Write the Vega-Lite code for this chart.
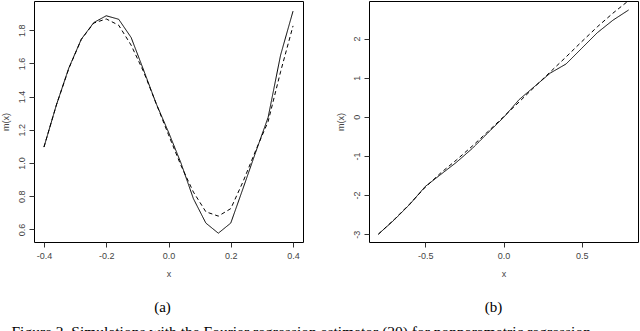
{
  "$schema": "https://vega.github.io/schema/vega-lite/v6.json",
  "padding": {"left": 0, "top": 0, "right": 0, "bottom": 0},
  "background": "white",
  "datasets": {
    "a": [
      {"x": -0.40, "m": 1.096, "series": "estimate"},
      {"x": -0.36, "m": 1.350, "series": "estimate"},
      {"x": -0.32, "m": 1.573, "series": "estimate"},
      {"x": -0.28, "m": 1.746, "series": "estimate"},
      {"x": -0.24, "m": 1.846, "series": "estimate"},
      {"x": -0.20, "m": 1.887, "series": "estimate"},
      {"x": -0.16, "m": 1.866, "series": "estimate"},
      {"x": -0.12, "m": 1.756, "series": "estimate"},
      {"x": -0.08, "m": 1.560, "series": "estimate"},
      {"x": -0.04, "m": 1.360, "series": "estimate"},
      {"x": 0.00, "m": 1.186, "series": "estimate"},
      {"x": 0.04, "m": 1.000, "series": "estimate"},
      {"x": 0.08, "m": 0.785, "series": "estimate"},
      {"x": 0.12, "m": 0.638, "series": "estimate"},
      {"x": 0.16, "m": 0.577, "series": "estimate"},
      {"x": 0.20, "m": 0.638, "series": "estimate"},
      {"x": 0.24, "m": 0.850, "series": "estimate"},
      {"x": 0.28, "m": 1.065, "series": "estimate"},
      {"x": 0.32, "m": 1.275, "series": "estimate"},
      {"x": 0.36, "m": 1.650, "series": "estimate"},
      {"x": 0.40, "m": 1.915, "series": "estimate"},
      {"x": -0.40, "m": 1.096, "series": "true"},
      {"x": -0.36, "m": 1.350, "series": "true"},
      {"x": -0.32, "m": 1.570, "series": "true"},
      {"x": -0.28, "m": 1.745, "series": "true"},
      {"x": -0.24, "m": 1.843, "series": "true"},
      {"x": -0.20, "m": 1.868, "series": "true"},
      {"x": -0.16, "m": 1.830, "series": "true"},
      {"x": -0.12, "m": 1.710, "series": "true"},
      {"x": -0.08, "m": 1.550, "series": "true"},
      {"x": -0.04, "m": 1.360, "series": "true"},
      {"x": 0.00, "m": 1.170, "series": "true"},
      {"x": 0.04, "m": 0.985, "series": "true"},
      {"x": 0.08, "m": 0.825, "series": "true"},
      {"x": 0.12, "m": 0.706, "series": "true"},
      {"x": 0.16, "m": 0.680, "series": "true"},
      {"x": 0.20, "m": 0.725, "series": "true"},
      {"x": 0.24, "m": 0.890, "series": "true"},
      {"x": 0.28, "m": 1.075, "series": "true"},
      {"x": 0.32, "m": 1.250, "series": "true"},
      {"x": 0.36, "m": 1.550, "series": "true"},
      {"x": 0.40, "m": 1.826, "series": "true"}
    ],
    "b": [
      {"x": -0.8, "m": -3.00, "series": "estimate"},
      {"x": -0.7, "m": -2.64, "series": "estimate"},
      {"x": -0.6, "m": -2.24, "series": "estimate"},
      {"x": -0.5, "m": -1.78, "series": "estimate"},
      {"x": -0.4, "m": -1.47, "series": "estimate"},
      {"x": -0.3, "m": -1.16, "series": "estimate"},
      {"x": -0.2, "m": -0.81, "series": "estimate"},
      {"x": -0.1, "m": -0.41, "series": "estimate"},
      {"x": 0.0, "m": -0.02, "series": "estimate"},
      {"x": 0.1, "m": 0.44, "series": "estimate"},
      {"x": 0.2, "m": 0.78, "series": "estimate"},
      {"x": 0.3, "m": 1.12, "series": "estimate"},
      {"x": 0.4, "m": 1.35, "series": "estimate"},
      {"x": 0.5, "m": 1.75, "series": "estimate"},
      {"x": 0.6, "m": 2.15, "series": "estimate"},
      {"x": 0.7, "m": 2.47, "series": "estimate"},
      {"x": 0.8, "m": 2.73, "series": "estimate"},
      {"x": -0.8, "m": -3.00, "series": "true"},
      {"x": -0.7, "m": -2.63, "series": "true"},
      {"x": -0.6, "m": -2.23, "series": "true"},
      {"x": -0.5, "m": -1.80, "series": "true"},
      {"x": -0.4, "m": -1.43, "series": "true"},
      {"x": -0.3, "m": -1.10, "series": "true"},
      {"x": -0.2, "m": -0.75, "series": "true"},
      {"x": -0.1, "m": -0.38, "series": "true"},
      {"x": 0.0, "m": 0.00, "series": "true"},
      {"x": 0.1, "m": 0.38, "series": "true"},
      {"x": 0.2, "m": 0.77, "series": "true"},
      {"x": 0.3, "m": 1.15, "series": "true"},
      {"x": 0.4, "m": 1.53, "series": "true"},
      {"x": 0.5, "m": 1.92, "series": "true"},
      {"x": 0.6, "m": 2.30, "series": "true"},
      {"x": 0.7, "m": 2.65, "series": "true"},
      {"x": 0.8, "m": 2.97, "series": "true"}
    ]
  },
  "title": {
    "text": "Figure 2. Simulations with the Fourier regression estimator (20) for nonparametric regression",
    "orient": "bottom",
    "anchor": "start",
    "font": "Liberation Serif",
    "fontSize": 15.5,
    "fontWeight": "normal",
    "color": "black",
    "offset": 9,
    "dx": 11
  },
  "spacing": 31,
  "hconcat": [
    {
      "width": 269,
      "height": 241,
      "view": {"stroke": "black", "strokeWidth": 1},
      "title": {"text": "(a)", "orient": "bottom", "anchor": "middle", "dx": -6, "offset": 22, "font": "Liberation Serif", "fontSize": 15, "fontWeight": "normal", "color": "black"},
      "data": {"name": "a"},
      "mark": {"type": "line", "color": "black", "strokeWidth": 1, "clip": true},
      "encoding": {
        "x": {"field": "x", "type": "quantitative",
              "scale": {"domain": [-0.432, 0.432], "nice": false, "zero": false},
              "axis": {"values": [-0.4, -0.2, 0, 0.2, 0.4], "title": "x",
                       "labelExpr": "replace(format(datum.value, '.1f'), '\u2212', '-')"}},
        "y": {"field": "m", "type": "quantitative",
              "scale": {"domain": [0.524, 1.976], "nice": false, "zero": false},
              "axis": {"values": [0.6, 0.8, 1.0, 1.2, 1.4, 1.6, 1.8], "title": "m(x)",
                       "labelExpr": "format(datum.value, '.1f')"}},
        "strokeDash": {"field": "series", "type": "nominal",
                       "scale": {"domain": ["estimate", "true"], "range": [[1, 0], [4, 3]]},
                       "legend": null}
      }
    },
    {
      "width": 269,
      "height": 241,
      "view": {"stroke": "black", "strokeWidth": 1},
      "title": {"text": "(b)", "orient": "bottom", "anchor": "middle", "dx": -10, "offset": 22, "font": "Liberation Serif", "fontSize": 15, "fontWeight": "normal", "color": "black"},
      "data": {"name": "b"},
      "mark": {"type": "line", "color": "black", "strokeWidth": 1, "clip": true},
      "encoding": {
        "x": {"field": "x", "type": "quantitative",
              "scale": {"domain": [-0.86, 0.86], "nice": false, "zero": false},
              "axis": {"values": [-0.5, 0, 0.5], "title": "x",
                       "labelExpr": "replace(format(datum.value, '.1f'), '\u2212', '-')"}},
        "y": {"field": "m", "type": "quantitative",
              "scale": {"domain": [-3.2, 2.96], "nice": false, "zero": false},
              "axis": {"values": [-3, -2, -1, 0, 1, 2], "title": "m(x)",
                       "labelExpr": "replace(format(datum.value, 'd'), '\u2212', '-')"}},
        "strokeDash": {"field": "series", "type": "nominal",
                       "scale": {"domain": ["estimate", "true"], "range": [[1, 0], [4, 3]]},
                       "legend": null}
      }
    }
  ],
  "config": {
    "view": {"stroke": "black", "strokeWidth": 1},
    "axis": {
      "grid": false,
      "domain": false,
      "ticks": true,
      "tickSize": 5,
      "tickColor": "#333",
      "labelFont": "Liberation Sans",
      "labelFontSize": 9,
      "labelColor": "#444",
      "titleFont": "Liberation Sans",
      "titleFontSize": 9,
      "titleFontWeight": "normal",
      "titleColor": "#444"
    },
    "axisX": {"labelPadding": 4, "titlePadding": 9},
    "axisY": {"labelAngle": -90, "labelAlign": "center", "labelBaseline": "bottom", "labelPadding": 3, "titlePadding": 7}
  }
}
